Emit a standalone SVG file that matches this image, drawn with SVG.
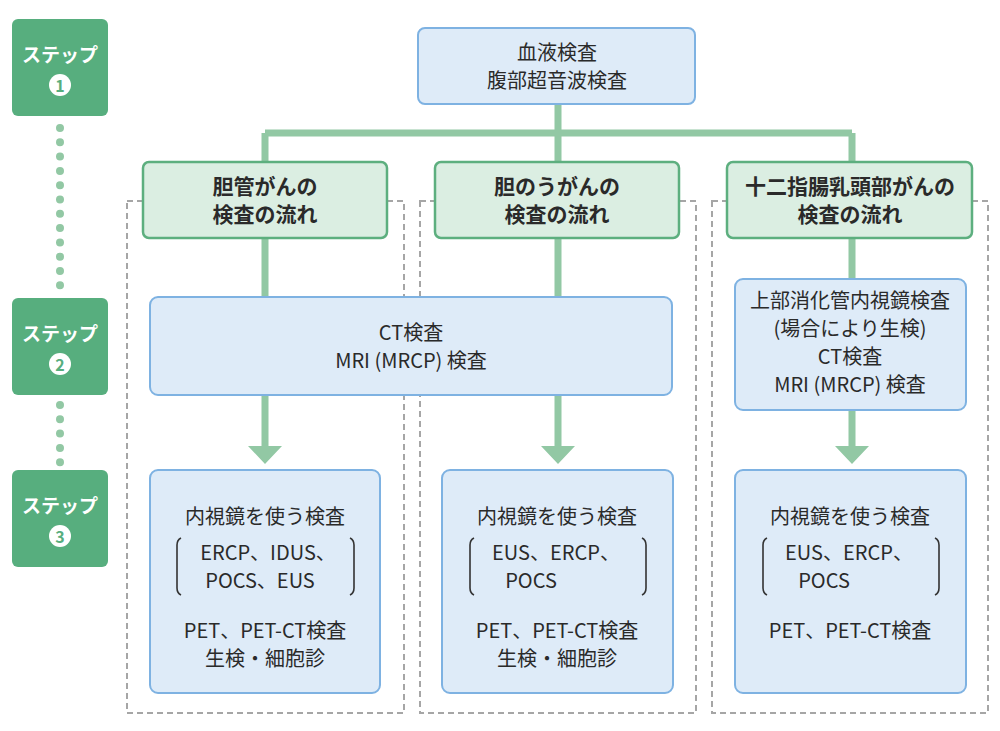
<svg xmlns="http://www.w3.org/2000/svg" width="1000" height="731" viewBox="0 0 1000 731">
<style>
text{font-family:"Noto Sans CJK JP","Noto Sans",sans-serif;fill:#2a2a2a;text-anchor:middle}
.step{fill:#57ae7e}
.st{fill:#fff;font-size:19px;font-weight:bold}
.cat{fill:#dbeee2;stroke:#5daf7f;stroke-width:2.5}
.blue{fill:#deebf8;stroke:#7eb2e2;stroke-width:2}
.dash{fill:none;stroke:#a6a6a6;stroke-width:2;stroke-dasharray:6 4}
.ln{stroke:#92c8a4;stroke-width:7;fill:none}
.dot{stroke:#92c8a4;stroke-width:8;stroke-linecap:round;stroke-dasharray:0 14.3;fill:none}
.t{font-size:20px}
.tb{font-size:21px;font-weight:bold}
.br{fill:none;stroke:#333;stroke-width:1.6}
</style>
<defs><marker id="ah" markerUnits="userSpaceOnUse" markerWidth="36" markerHeight="22" refX="18" refY="0" viewBox="0 0 36 22" orient="auto-start-reverse"/></defs>
<g id="dashes">
<rect class="dash" x="127" y="201" width="277" height="512"/>
<rect class="dash" x="420" y="201" width="276" height="512"/>
<rect class="dash" x="712" y="201" width="276" height="512"/>
</g>
<g id="connectors">
<path class="ln" d="M558 104V133M265 133H852M265 162V133M558 162V133M852 162V133"/>
<path class="ln" d="M265 238V297M558 238V297M852 238V279"/>
<path class="ln" d="M265 395V448M558 395V448M852 410V448"/>
<path d="M248 446H282L265 464Z M541 446H575L558 464Z M835 446H869L852 464Z" fill="#92c8a4"/>
<path class="dot" d="M60 128V290M60 405V463"/>
</g>
<g id="step1"><rect class="step" x="12" y="19" width="96" height="97" rx="6"/><text class="st" x="60" y="62">ステップ</text><circle cx="60" cy="85" r="11" fill="#fff"/><text x="60" y="91.5" style="font-size:16px;font-weight:bold;fill:#57ae7e">1</text></g>
<g id="step2"><rect class="step" x="12" y="298" width="96" height="97" rx="6"/><text class="st" x="60" y="341">ステップ</text><circle cx="60" cy="364" r="11" fill="#fff"/><text x="60" y="370.5" style="font-size:16px;font-weight:bold;fill:#57ae7e">2</text></g>
<g id="step3"><rect class="step" x="12" y="470" width="96" height="97" rx="6"/><text class="st" x="60" y="513">ステップ</text><circle cx="60" cy="536" r="11" fill="#fff"/><text x="60" y="542.5" style="font-size:16px;font-weight:bold;fill:#57ae7e">3</text></g>
<g id="top"><rect class="blue" x="418" y="28" width="277" height="76" rx="7"/><text class="t" x="557" y="60">血液検査</text><text class="t" x="557" y="88">腹部超音波検査</text></g>
<g id="cat1"><rect class="cat" x="143" y="162" width="244" height="76" rx="6"/><text class="tb" x="265" y="194">胆管がんの</text><text class="tb" x="265" y="222">検査の流れ</text></g>
<g id="cat2"><rect class="cat" x="435" y="162" width="244" height="76" rx="6"/><text class="tb" x="557" y="194">胆のうがんの</text><text class="tb" x="557" y="222">検査の流れ</text></g>
<g id="cat3"><rect class="cat" x="727" y="162" width="245" height="76" rx="6"/><text class="tb" x="850" y="194">十二指腸乳頭部がんの</text><text class="tb" x="850" y="222">検査の流れ</text></g>
<g id="ct"><rect class="blue" x="150" y="297" width="522" height="98" rx="8"/><text class="t" x="411" y="340">CT検査</text><text class="t" x="411" y="368">MRI (MRCP) 検査</text></g>
<g id="ct3"><rect class="blue" x="735" y="279" width="231" height="131" rx="8"/><text class="t" x="850" y="308">上部消化管内視鏡検査</text><text class="t" x="850" y="336">(場合により生検)</text><text class="t" x="850" y="364">CT検査</text><text class="t" x="850" y="392">MRI (MRCP) 検査</text></g>
<g id="end1"><rect class="blue" x="150" y="470" width="230" height="223" rx="8"/><text class="t" x="265" y="524">内視鏡を使う検査</text><text class="t" x="268" y="560">ERCP、IDUS、</text><text class="t" x="260" y="588">POCS、EUS</text><path class="br" d="M181 538Q177 540 177 545V588Q177 593 181 595M350 538Q354 540 354 545V588Q354 593 350 595"/><text class="t" x="265" y="638">PET、PET-CT検査</text><text class="t" x="265" y="666">生検・細胞診</text></g>
<g id="end2"><rect class="blue" x="442" y="470" width="231" height="223" rx="8"/><text class="t" x="557" y="524">内視鏡を使う検査</text><text class="t" x="556" y="560">EUS、ERCP、</text><text class="t" x="531" y="588">POCS</text><path class="br" d="M474 538Q470 540 470 545V588Q470 593 474 595M642 538Q646 540 646 545V588Q646 593 642 595"/><text class="t" x="557" y="638">PET、PET-CT検査</text><text class="t" x="557" y="666">生検・細胞診</text></g>
<g id="end3"><rect class="blue" x="735" y="470" width="231" height="223" rx="8"/><text class="t" x="850" y="524">内視鏡を使う検査</text><text class="t" x="849" y="560">EUS、ERCP、</text><text class="t" x="824" y="588">POCS</text><path class="br" d="M767 538Q763 540 763 545V588Q763 593 767 595M935 538Q939 540 939 545V588Q939 593 935 595"/><text class="t" x="850" y="638">PET、PET-CT検査</text></g>
</svg>
